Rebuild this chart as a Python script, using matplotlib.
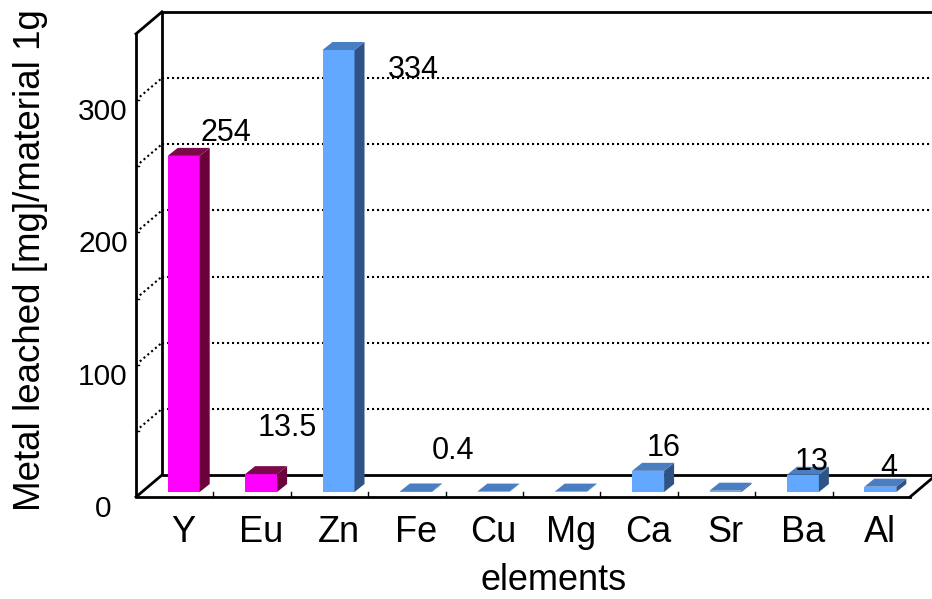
import matplotlib
matplotlib.use("Agg")
import matplotlib.pyplot as plt

plt.rcParams['font.family'] = ['Liberation Sans', 'DejaVu Sans']

elements = ['Y', 'Eu', 'Zn', 'Fe', 'Cu', 'Mg', 'Ca', 'Sr', 'Ba', 'Al']
leached = [254, 13.5, 334, 0.4, 0.3, 0.3, 16, 1.0, 13, 4]
labels = ['254', '13.5', '334', '0.4', '', '', '16', '', '13', '4']
rare_earth = ['Y', 'Eu']
yticks = [0, 100, 200, 300]
ymax = 350

# label placement, pixels from the front-top centre of each bar
label_offsets = [(42, 23), (26, 46), (75, -20), (37, 40), (0, 0), (0, 0),
                 (16, 23), (0, 0), (9, 13), (8, 19)]

# pixel scales of the front plane
W, H = 932, 599
PX_X = 77.4          # px per category
PX_Y = 1.3233        # px per unit of value
X0, Y0 = 136, 497    # front corner of the floor (px from left / top)

# depth of the box and of the bars, in data units
DX, DY = 26 / PX_X, 22 / PX_Y
BAR_W = 32 / PX_X
BAR_SHIFT_X, BAR_SHIFT_Y = 9 / PX_X, 5 / PX_Y
BAR_DX, BAR_DY = 10 / PX_X, 8 / PX_Y

fig = plt.figure(figsize=(W / 100, H / 100), dpi=100)
ax = fig.add_axes([0, 0, 1, 1])
ax.set_xlim(-X0 / PX_X, (W - X0) / PX_X)
ax.set_ylim(-(H - Y0) / PX_Y, Y0 / PX_Y)
ax.axis('off')

n = len(elements)
k = dict(color='black', lw=2.0, solid_capstyle='projecting', zorder=2)
dot = dict(color='black', lw=1.5, linestyle=(0, (1, 1.4)), zorder=1)

# back wall, floor and left wall outlines
ax.plot([DX, DX, n + DX + 1], [ymax + DY, DY, DY], **k)
ax.plot([DX, n + DX + 1], [ymax + DY, ymax + DY], **k)
ax.plot([0, 0, n], [ymax, 0, 0], **k)
ax.plot([0, DX], [0, DY], **k)
ax.plot([0, DX], [ymax, ymax + DY], **k)
ax.plot([n, n + DX], [0, DY], **k)

# dotted gridlines on the back wall and the side wall
for g in range(50, 301, 50):
    ax.plot([DX, n + DX + 1], [g + DY, g + DY], **dot)
    ax.plot([0, DX], [g, g + DY], **dot)
    ax.plot([0, 3 / PX_X], [g, g], color='black', lw=1, zorder=2)

for t in yticks:
    ax.text(-33 / PX_X, t - 12 / PX_Y, str(t), ha='center', va='center',
            fontsize=21.5)

# category ticks on the front edge of the floor
for i in range(1, n):
    ax.plot([i, i], [0, 5 / PX_Y], color='black', lw=1, zorder=2)

xs = [i + 0.5 + BAR_SHIFT_X for i in range(n)]
fronts = ['#FF00FF' if e in rare_earth else '#62A8FF' for e in elements]
tops = ['#7A0A48' if e in rare_earth else '#4A7EC2' for e in elements]
sides = ['#6B003D' if e in rare_earth else '#2F5384' for e in elements]

ax.bar(xs, leached, width=BAR_W, bottom=BAR_SHIFT_Y, color=fronts,
       linewidth=0, zorder=3)
for x, v, tc, sc in zip(xs, leached, tops, sides):
    l, r = x - BAR_W / 2, x + BAR_W / 2
    b, t = BAR_SHIFT_Y, BAR_SHIFT_Y + v
    ax.fill([r, r + BAR_DX, r + BAR_DX, r], [b, b + BAR_DY, t + BAR_DY, t],
            color=sc, lw=0, zorder=3)
    ax.fill([l, r, r + BAR_DX, l + BAR_DX], [t, t, t + BAR_DY, t + BAR_DY],
            color=tc, lw=0, zorder=3)

for x, v, lab, off in zip(xs, leached, labels, label_offsets):
    if lab:
        ax.annotate(lab, (x, BAR_SHIFT_Y + v), xytext=off,
                    textcoords='offset pixels', ha='center', va='center',
                    fontsize=22, zorder=4)

for x, e in zip(xs, elements):
    ax.text(x, -35 / PX_Y, e, ha='center', va='center', fontsize=26)

ax.text((554 - X0) / PX_X, -(580 - Y0) / PX_Y, 'elements', ha='center',
        va='center', fontsize=26)
ax.text(-(X0 - 31) / PX_X, (Y0 - 260) / PX_Y, 'Metal leached [mg]/material 1g',
        ha='center', va='center', rotation=90, fontsize=26.5)

fig.savefig('out.png', dpi=100)
